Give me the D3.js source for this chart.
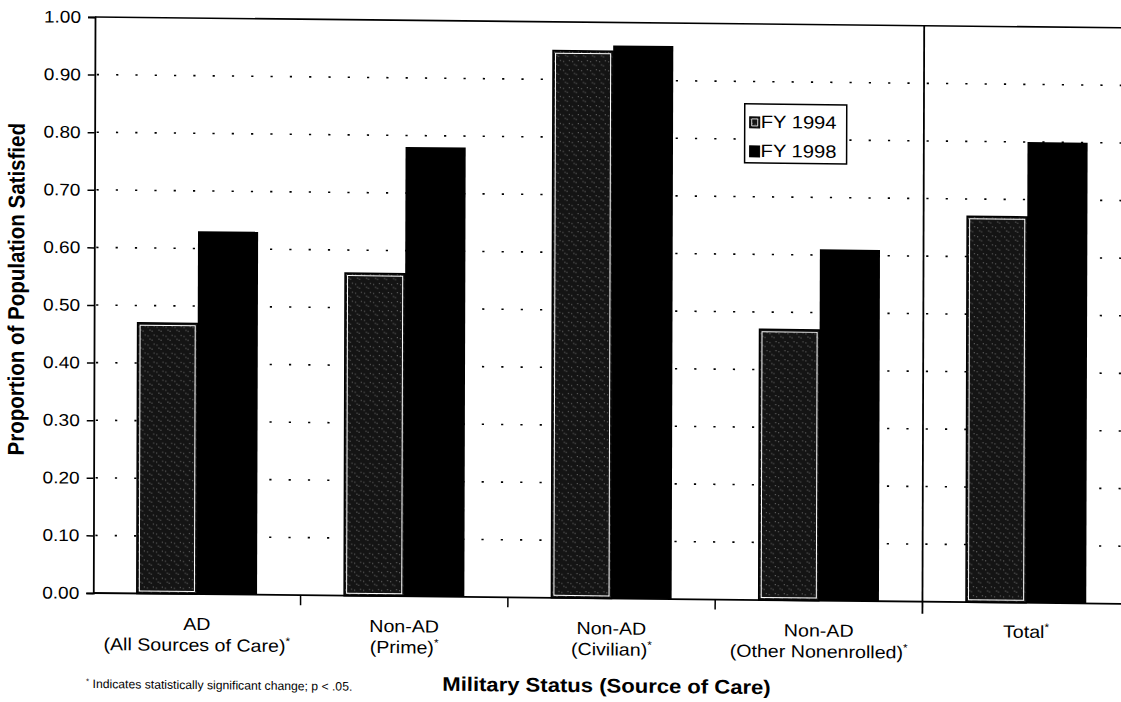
<!DOCTYPE html>
<html><head><meta charset="utf-8">
<script src="https://cdn.jsdelivr.net/npm/d3@7"></script>
<style>
body{margin:0;background:#fff;}
svg{display:block;}
text{font-family:"Liberation Sans",Arial,Helvetica,sans-serif;fill:#000;}
</style>
</head><body>
<svg id="chart" width="1121" height="702"></svg>
<script>
// ---- data ----
const categoryKeys = ["AD (All Sources of Care)", "Non-AD (Prime)", "Non-AD (Civilian)", "Non-AD (Other Nonenrolled)", "Total"];
const labelLine1 = ["AD", "Non-AD", "Non-AD", "Non-AD", "Total"];
const labelLine2 = ["(All Sources of Care)", "(Prime)", "(Civilian)", "(Other Nonenrolled)", ""];
const seriesNames = ["FY 1994", "FY 1998"];
const fy1994 = [0.47, 0.56, 0.95, 0.47, 0.67];
const fy1998 = [0.63, 0.78, 0.96, 0.61, 0.80];
const yTicks = [0.0, 0.1, 0.2, 0.3, 0.4, 0.5, 0.6, 0.7, 0.8, 0.9, 1.0];
const gridTicks = [0.1, 0.2, 0.3, 0.4, 0.5, 0.6, 0.7, 0.8, 0.9];
const yTitle = "Proportion of Population Satisfied";
const xTitle = "Military Status (Source of Care)";
const footnote = " Indicates statistically significant change; p < .05.";

// ---- layout ----
const SX = 1.12; // horizontal stretch of the scanned original
const svg = d3.select("#chart");
const defs = svg.append("defs");
const pat = defs.append("pattern").attr("id", "speck").attr("patternUnits", "userSpaceOnUse")
  .attr("width", 9).attr("height", 9);
pat.append("rect").attr("width", 9).attr("height", 9).attr("fill", "#141414");
[[1,2],[5,6],[7,1],[3,5]].forEach(([a,b]) =>
  pat.append("rect").attr("x", a).attr("y", b).attr("width", 1).attr("height", 1).attr("fill", "#777"));

const g = svg.append("g").attr("transform", "matrix(1,0.0105,-0.003,1,0.051,-0.9975)");

const x0 = d3.scaleBand().domain(categoryKeys).range([95, 1131.5]).paddingInner(0.42).paddingOuter(0.21);
const x1 = d3.scaleBand().domain(seriesNames).range([0, x0.bandwidth()]);
const y = d3.scaleLinear().domain([0, 1]).range([593, 17]);
const xL = 95, xR = 1131.5;
const boundary = i => x0(categoryKeys[i]) - x0.step() * x0.paddingInner() / 2;

// dotted gridlines
g.append("g").selectAll("line").data(gridTicks).join("line")
  .attr("x1", xL).attr("x2", xR).attr("y1", d => y(d)).attr("y2", d => y(d))
  .attr("stroke", "#000").attr("stroke-width", 1.6)
  .attr("stroke-dasharray", "2.2,17.1").attr("stroke-dashoffset", -2);

// top border
g.append("line").attr("x1", xL).attr("x2", xR).attr("y1", y(1)).attr("y2", y(1))
  .attr("stroke", "#000").attr("stroke-width", 1.6);

// bars
const groups = g.append("g").selectAll("g").data(categoryKeys).join("g")
  .attr("transform", d => `translate(${x0(d)},0)`);
groups.append("rect")
  .attr("x", x1("FY 1994")).attr("width", x1.bandwidth())
  .attr("y", (d, i) => y(fy1994[i])).attr("height", (d, i) => y(0) - y(fy1994[i]))
  .attr("fill", "url(#speck)").attr("stroke", "#000").attr("stroke-width", 1.5);
groups.append("rect")
  .attr("x", x1("FY 1994") + 2.5).attr("width", x1.bandwidth() - 5)
  .attr("y", (d, i) => y(fy1994[i]) + 2.5).attr("height", (d, i) => y(0) - y(fy1994[i]) - 5)
  .attr("fill", "none").attr("stroke", "#fff").attr("stroke-width", 1);
groups.append("rect")
  .attr("x", x1("FY 1998")).attr("width", x1.bandwidth())
  .attr("y", (d, i) => y(fy1998[i])).attr("height", (d, i) => y(0) - y(fy1998[i]))
  .attr("fill", "#000");

// y axis
const yAxis = g.append("g").attr("transform", `translate(${xL},0)`)
  .call(d3.axisLeft(y).tickValues(yTicks).tickFormat(d3.format(".2f")).tickSize(7).tickPadding(7));
yAxis.select(".domain").attr("stroke", "#000").attr("stroke-width", 1.8);
yAxis.selectAll(".tick line").attr("stroke", "#000").attr("stroke-width", 1.5);
yAxis.selectAll(".tick text")
  .attr("font-size", 17).attr("font-family", "Liberation Sans, Arial, sans-serif").attr("fill", "#000")
  .attr("x", 0).attr("transform", `translate(-14,0) scale(${SX},1)`);

// bottom axis line and category ticks
g.append("line").attr("x1", xL).attr("x2", xR).attr("y1", y(0)).attr("y2", y(0))
  .attr("stroke", "#000").attr("stroke-width", 1.8);
g.append("g").selectAll("line").data([1, 2, 3]).join("line")
  .attr("x1", i => boundary(i)).attr("x2", i => boundary(i))
  .attr("y1", y(0)).attr("y2", y(0) + 10).attr("stroke", "#000").attr("stroke-width", 1.5);
// separator before Total
g.append("line").attr("x1", boundary(4)).attr("x2", boundary(4))
  .attr("y1", y(1)).attr("y2", y(0) + 12).attr("stroke", "#000").attr("stroke-width", 1.8);

// category labels
const lab = g.append("g").selectAll("g").data(categoryKeys).join("g")
  .attr("transform", d => `translate(${x0(d) + x0.bandwidth() / 2},0)`);
function starText(sel, txt, yy, fs) {
  const t = sel.append("text").attr("text-anchor", "middle").attr("font-size", fs)
    .attr("transform", `translate(0,${yy}) scale(${SX},1)`);
  t.append("tspan").text(txt);
  t.append("tspan").attr("font-size", fs * 0.6).attr("dy", -fs * 0.42).text("*");
}
lab.each(function(d, i) {
  const s = d3.select(this);
  if (labelLine2[i]) {
    s.append("text").attr("text-anchor", "middle").attr("font-size", 17.5)
      .attr("transform", `translate(0,629) scale(${SX},1)`).text(labelLine1[i]);
    starText(s, labelLine2[i], 650, 17.5);
  } else {
    starText(s, labelLine1[i], 628, 17.5);
  }
});

// footnote
const fn = g.append("text").attr("font-size", 12.2).attr("transform", `translate(88,688) scale(1.0,1)`);
fn.append("tspan").attr("font-size", 8).attr("dy", -4).text("*");
fn.append("tspan").attr("dy", 4).text(footnote);

// axis titles
g.append("text").attr("text-anchor", "middle").attr("font-size", 19.7).attr("font-weight", "bold")
  .attr("transform", `translate(608.5,687) scale(${SX},1)`).text(xTitle);
g.append("text").attr("text-anchor", "middle").attr("font-size", 20.5).attr("font-weight", "bold")
  .attr("transform", `translate(25,290) scale(${SX},1) rotate(-90)`).text(yTitle);

// legend
const lg = g.append("g").attr("transform", "translate(745,97)");
lg.append("rect").attr("width", 102).attr("height", 59).attr("fill", "#fff")
  .attr("stroke", "#000").attr("stroke-width", 1.5);
const legRows = lg.selectAll("g").data(seriesNames).join("g")
  .attr("transform", (d, i) => `translate(0,${i * 29})`);
legRows.append("rect").attr("x", 5).attr("y", 13).attr("width", 10).attr("height", 11)
  .attr("fill", (d, i) => i === 0 ? "url(#speck)" : "#000")
  .attr("stroke", "#000").attr("stroke-width", 1);
legRows.filter((d, i) => i === 0).append("rect").attr("x", 7).attr("y", 15).attr("width", 6).attr("height", 7)
  .attr("fill", "none").attr("stroke", "#fff").attr("stroke-width", 0.8);
legRows.append("text").attr("font-size", 18)
  .attr("transform", `translate(16,24) scale(${SX},1)`).text(d => d);
</script>
</body></html>
